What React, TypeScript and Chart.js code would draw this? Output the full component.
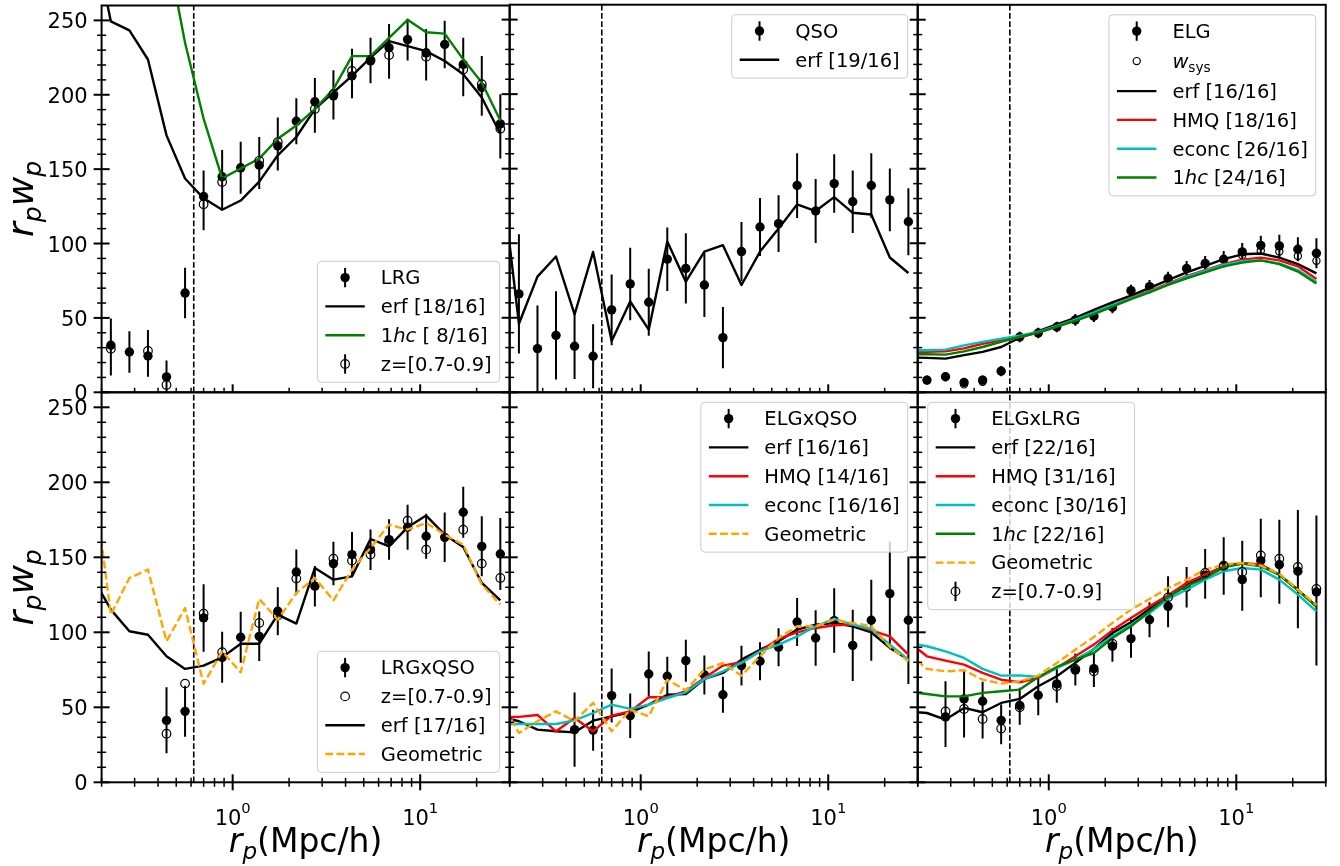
import React, { useEffect, useRef } from "react";
import { Chart, registerables } from "chart.js";

Chart.register(...registerables);

const FONT = '"DejaVu Sans", "Liberation Sans", Arial, sans-serif';

// ---------------- x positions (r_p in Mpc/h) ----------------
const rp = [0.2241, 0.2814, 0.3534, 0.4438, 0.5573, 0.6998, 0.8788, 1.1036, 1.3858, 1.7402, 2.1853,
  2.7443, 3.4462, 4.3276, 5.4344, 6.8236, 8.5677, 10.759, 13.511, 16.966, 21.305, 26.754];
const rpModel = [0.1785, 0.2241, 0.2814, 0.3534, 0.4438, 0.5573, 0.6998, 0.8788, 1.1036, 1.3858, 1.7402,
  2.1853, 2.7443, 3.4462, 4.3276, 5.4344, 6.8236, 8.5677, 10.759, 13.511, 16.966, 21.305, 26.754];
const rCut = 0.62;

// ---------------- axes ----------------
const xMin = 0.2, xMax = 30, yMin = 0, yMax = 260;
const yMajorTicks = [0, 50, 100, 150, 200, 250];
const yMinorTicks = [10, 20, 30, 40, 60, 70, 80, 90, 110, 120, 130, 140, 160, 170, 180, 190, 210, 220, 230, 240];
const xMajorTicks = [1, 10];
const xTickExponents = ["0", "1"];
const xMinorTicks = [0.2, 0.3, 0.4, 0.5, 0.6, 0.7, 0.8, 0.9, 2, 3, 4, 5, 6, 7, 8, 9, 20, 30];

// ---------------- LRG ----------------
const lrgY = [31.6, 27.1, 24.4, 10.4, 66.7, 131.6, 144.9, 150.9, 152.7, 165.6, 182.2, 195.3, 199.3, 212.7, 222.7, 231.6, 237.1, 228.2, 233.8, 220.4, 204.9, 180.4];
const lrgErr = [18, 14, 14, 11, 17, 17.5, 18, 17.5, 16, 16.5, 15.5, 16, 16, 15, 15, 16, 14, 16, 16, 18, 19, 20];
const lrgZY = [29.3, null, 27.8, 4.9, null, 126.4, 141.3, null, 155.6, 168.2, null, 190.4, 200.4, 216, 223.3, 226.7, null, 225.6, null, 217, 207.1, 177.1];
const lrgErf = [310, 249.3, 243.3, 223.7, 172.7, 143.7, 130.4, 122.7, 128.9, 141.6, 159.3, 171.6, 190.4, 201.6, 212.7, 224.9, 236, 232.7, 229.3, 222.7, 213.8, 198.2, 173.8];
const lrg1hc = [470, 450, 420, 380, 300, 235, 184, 143.8, 150.4, 157.1, 170.4, 179.3, 190.4, 203.8, 226, 226, 238.2, 250.4, 242, 241.1, 223.8, 208.2, 182.7];

// ---------------- QSO ----------------
const qsoY = [66, 29.3, 38.2, 30.9, 24.2, 55.3, 72.7, 60.4, 89.3, 83.1, 72, 36.7, 94.4, 110.9, 113.1, 138.7, 121.6, 140, 127.8, 138.7, 129.1, 114.4];
const qsoErr = [40, 29, 29.6, 22, 21.4, 23.7, 24.3, 22.5, 21.3, 23.6, 21.5, 20.6, 19.8, 19.5, 19, 21.7, 21.5, 19.6, 21, 21.6, 21, 22.5];
const qsoErf = [152, 46, 77.6, 91.1, 52.2, 94.2, 34.4, 60.9, 42, 101.1, 74.2, 94.4, 98.7, 72, 94.4, 109.8, 126, 121.6, 130.9, 120.4, 119.3, 90.4, 80];

// ---------------- ELG ----------------
const elgY = [8.2, 10.4, 6.6, 8.2, 14.2, 37.1, 39.8, 43.8, 48.6, 51.1, 57.1, 68.2, 70.9, 76.4, 83.1, 86.4, 89.3, 94.2, 98.6, 98.2, 96, 93.3];
const elgErr = [3, 3, 3, 3, 3.5, 3.5, 3.5, 3.5, 4, 4, 4, 4, 4.5, 4.5, 5, 5, 5.5, 6, 6.5, 7.5, 8, 10];
const elgSys = [null, null, 5.3, 7.0, null, null, null, null, null, null, null, null, null, null, null, null, null, 92, 95, 94.5, 91.5, 88.2];
const elgErf = [23.4, 23.1, 22.6, 24.9, 27.1, 30.4, 36.6, 41.1, 45.5, 50, 55.3, 60.4, 64.9, 70, 75.3, 80.4, 84.9, 89.3, 92.6, 93.1, 90.4, 86, 79.8];
const elgHmq = [27, 27.1, 27.5, 29.5, 32.6, 34.9, 37, 40, 44, 48.5, 53.5, 58.5, 63.5, 68, 73, 78, 82, 86, 89, 90.4, 88.5, 84.5, 76];
const elgEconc = [28.2, 28.2, 28.6, 31.5, 33.8, 36, 38, 40.5, 44.5, 48.8, 53.5, 58.5, 63, 67.5, 72.5, 77.5, 81.5, 85.5, 88, 88.5, 86.5, 82, 74];
const elg1hc = [25.5, 25.5, 25.3, 27.5, 30.4, 33.8, 37.3, 40, 44, 48, 52.5, 57.5, 62.5, 67, 72, 76.5, 80.5, 84.5, 87, 88.5, 86, 81, 73];

// ---------------- LRGxQSO ----------------
const lqY = [null, null, null, 41.3, 47.3, 109.6, 83.3, 96.7, 97.3, 114, 140.2, 130.7, 145.8, 151.8, 155.1, 161.8, 170, 164, 163.3, 180, 157.3, 152.2];
const lqErr = [0, 0, 0, 22, 17, 22.5, 17, 17, 16.5, 16, 15, 13.5, 14.5, 15, 13.5, 13.5, 15, 15, 16.5, 17, 20, 24];
const lqZY = [null, null, null, 32.4, 65.8, 112.4, 86.7, null, 106.2, 111.1, 135.8, null, 149.1, 147.8, 151.8, 160.7, 174.4, 155.1, null, 168.4, 145.8, 136.2];
const lqErf = [137, 115.1, 100.7, 98.4, 84, 75.6, 77.8, 83.3, 92.4, 92.4, 111.8, 105.8, 142.9, 135.1, 137.3, 162.2, 157.3, 170, 177.8, 165.1, 156.9, 132.9, 121.3];
const lqGeo = [207, 111.8, 136.2, 141.8, 94, 116.2, 65.6, 87.3, 73.3, 122.2, 108.4, 126.2, 136.2, 121.3, 141.8, 156.2, 171.8, 168.4, 172.9, 165.1, 158.4, 131.8, 118.4];

// ---------------- ELGxQSO ----------------
const eqY = [null, null, null, 35.1, 34.7, 57.8, 44.4, 72.2, 70.7, 81.1, 71.6, 58.4, 77.8, 80.7, 90, 106.9, 96.2, 107.8, 91.3, 108, 125.8, 108];
const eqErr = [0, 0, 0, 24.7, 13.7, 18, 14.8, 15, 13, 14, 13, 12, 13.3, 12.7, 12.7, 16, 18.5, 21.5, 23.8, 27, 34.8, 42.5];
const eqErf = [43.7, 40.7, 35.1, 34, 33.3, 41.1, 44, 46.7, 51.8, 58.4, 58.9, 68.9, 72.9, 81.8, 88.4, 94, 101.8, 105.1, 106.2, 104, 100, 89.6, 81.8];
const eqHmq = [43.6, 43.6, 44.9, 34, 42.9, 34, 44.4, 47.3, 56.7, 56.7, 60.7, 69.6, 77.8, 80, 87.3, 95.6, 100, 102.9, 104.7, 105.1, 101.3, 97.3, 85.1];
const eqEconc = [38.9, 38.9, 38.9, 38.9, 41.3, 46.2, 51.8, 48.9, 51.8, 56.2, 60, 68.9, 74, 79.6, 87.3, 91.8, 97.3, 104, 108.9, 105.1, 102.2, 91.8, 81.8];
const eqGeo = [55, 32.9, 40.7, 47.3, 40.7, 52.9, 34, 48.4, 44, 68.4, 61.3, 75.1, 79.6, 71.1, 84, 96.2, 104, 104, 108.4, 106.2, 104, 90.2, 80.7];

// ---------------- ELGxLRG ----------------
const elY = [null, 43.6, 55.6, 54, 41.3, 51.3, 58, 65.6, 74.7, 75.8, 90.7, 95.8, 108.4, 117.3, 130, 138.4, 144, 135.1, 147.8, 145.1, 140.7, 126.9];
const elErr = [0, 20, 19, 13, 10.5, 11.7, 13.3, 11, 10.2, 10.5, 10.4, 12.8, 11.7, 14, 13.5, 16, 19, 20.8, 24.4, 26, 38, 49];
const elZY = [null, 47.3, 48.9, 42.2, 35.8, 50, null, 64, 75.6, 74, 92.4, null, null, 123.3, null, 139.6, 144.4, 140.2, 151.3, 149.1, 143.6, 128.9];
const elErf = [47.2, 46.2, 41.8, 49.6, 46.7, 52.9, 55.6, 64, 70.7, 79.6, 88.9, 99.6, 106.7, 115.6, 124.4, 131.1, 137.8, 144, 145.8, 145.1, 138.4, 128.4, 117.3];
const elHmq = [93.8, 84, 81.1, 78.4, 72.9, 68.4, 66.7, 69.6, 76.2, 84, 91.8, 101.3, 109.6, 117.3, 124.7, 132.9, 138.4, 144, 146.2, 145.1, 138.4, 128, 117.3];
const elEconc = [92.9, 90.7, 87.3, 82.9, 75.6, 71.1, 71.3, 70.2, 76.2, 81.8, 88.9, 97.3, 105.1, 112.9, 122.2, 128.4, 135.1, 140.7, 142.9, 141.8, 135.1, 125.1, 114];
const el1hc = [60.3, 58.9, 57.3, 57.3, 59.6, 60.7, 61.8, 70.2, 76.9, 81.8, 86.2, 96.2, 104, 114, 123.6, 130.7, 136.2, 143.3, 145.8, 144, 138.4, 128, 117.3];
const elGeo = [85.8, 75.6, 74, 74.7, 68.4, 65.8, 67.3, 71.1, 79.6, 88.4, 96.9, 106.2, 115.1, 122.2, 129.6, 135.1, 141.8, 145.1, 146.2, 144.4, 139.1, 128.4, 118.4];

// ---------------- styles ----------------
const BLACK = "#000000", GREEN = "#008000", RED = "#ff0000", CYAN = "#00bfbf", ORANGE = "#ffa500";
const GEO_DASH = [7.8, 3.4];
const LINE_W = 2.4;

// ---------------- layout ----------------
const FIG_W = 1340, FIG_H = 866;
const AX_LEFT = 101.6, AX_W = 408.05, AX_TOP = 2.3, AX_H = 390;

type Seg = { t: string; it?: boolean; sub?: boolean; sup?: boolean };
type LegendItem = { kind: "errfilled" | "erropen" | "open" | "line"; label: Seg[]; color?: string; dash?: number[]; r?: number; tall?: boolean };
type Series =
  | { kind: "filled"; y: (number | null)[]; err: number[] }
  | { kind: "open"; y: (number | null)[]; err?: number[]; r: number }
  | { kind: "line"; y: number[]; color: string; dash?: number[] };
type PanelDef = { row: number; col: number; series: Series[]; corner: "ur" | "lr" | "ul"; legend: LegendItem[] };

const T = (t: string): Seg[] => [{ t }];

const panels: PanelDef[] = [
  {
    row: 0, col: 0, corner: "lr",
    series: [
      { kind: "filled", y: lrgY, err: lrgErr },
      { kind: "line", y: lrgErf, color: BLACK },
      { kind: "line", y: lrg1hc, color: GREEN },
      { kind: "open", y: lrgZY, err: lrgErr, r: 4.3 },
    ],
    legend: [
      { kind: "errfilled", label: T("LRG") },
      { kind: "line", label: T("erf [18/16]"), color: BLACK },
      { kind: "line", label: [{ t: "1" }, { t: "hc", it: true }, { t: " [ 8/16]" }], color: GREEN },
      { kind: "erropen", label: T("z=[0.7-0.9]"), r: 4.3 },
    ],
  },
  {
    row: 0, col: 1, corner: "ur",
    series: [
      { kind: "filled", y: qsoY, err: qsoErr },
      { kind: "line", y: qsoErf, color: BLACK },
    ],
    legend: [
      { kind: "errfilled", label: T("QSO") },
      { kind: "line", label: T("erf [19/16]"), color: BLACK },
    ],
  },
  {
    row: 0, col: 2, corner: "ur",
    series: [
      { kind: "filled", y: elgY, err: elgErr },
      { kind: "open", y: elgSys, r: 3.6 },
      { kind: "line", y: elgErf, color: BLACK },
      { kind: "line", y: elgHmq, color: RED },
      { kind: "line", y: elgEconc, color: CYAN },
      { kind: "line", y: elg1hc, color: GREEN },
    ],
    legend: [
      { kind: "errfilled", label: T("ELG") },
      { kind: "open", label: [{ t: "w", it: true }, { t: "sys", sub: true }], r: 3.6, tall: true },
      { kind: "line", label: T("erf [16/16]"), color: BLACK },
      { kind: "line", label: T("HMQ [18/16]"), color: RED },
      { kind: "line", label: T("econc [26/16]"), color: CYAN },
      { kind: "line", label: [{ t: "1" }, { t: "hc", it: true }, { t: " [24/16]" }], color: GREEN },
    ],
  },
  {
    row: 1, col: 0, corner: "lr",
    series: [
      { kind: "filled", y: lqY, err: lqErr },
      { kind: "open", y: lqZY, r: 4.3 },
      { kind: "line", y: lqErf, color: BLACK },
      { kind: "line", y: lqGeo, color: ORANGE, dash: GEO_DASH },
    ],
    legend: [
      { kind: "errfilled", label: T("LRGxQSO") },
      { kind: "open", label: T("z=[0.7-0.9]"), r: 4.3 },
      { kind: "line", label: T("erf [17/16]"), color: BLACK },
      { kind: "line", label: T("Geometric"), color: ORANGE, dash: GEO_DASH },
    ],
  },
  {
    row: 1, col: 1, corner: "ur",
    series: [
      { kind: "filled", y: eqY, err: eqErr },
      { kind: "line", y: eqErf, color: BLACK },
      { kind: "line", y: eqHmq, color: RED },
      { kind: "line", y: eqEconc, color: CYAN },
      { kind: "line", y: eqGeo, color: ORANGE, dash: GEO_DASH },
    ],
    legend: [
      { kind: "errfilled", label: T("ELGxQSO") },
      { kind: "line", label: T("erf [16/16]"), color: BLACK },
      { kind: "line", label: T("HMQ [14/16]"), color: RED },
      { kind: "line", label: T("econc [16/16]"), color: CYAN },
      { kind: "line", label: T("Geometric"), color: ORANGE, dash: GEO_DASH },
    ],
  },
  {
    row: 1, col: 2, corner: "ul",
    series: [
      { kind: "filled", y: elY, err: elErr },
      { kind: "line", y: elErf, color: BLACK },
      { kind: "line", y: elHmq, color: RED },
      { kind: "line", y: elEconc, color: CYAN },
      { kind: "line", y: el1hc, color: GREEN },
      { kind: "line", y: elGeo, color: ORANGE, dash: GEO_DASH },
      { kind: "open", y: elZY, err: elErr, r: 4.3 },
    ],
    legend: [
      { kind: "errfilled", label: T("ELGxLRG") },
      { kind: "line", label: T("erf [22/16]"), color: BLACK },
      { kind: "line", label: T("HMQ [31/16]"), color: RED },
      { kind: "line", label: T("econc [30/16]"), color: CYAN },
      { kind: "line", label: [{ t: "1" }, { t: "hc", it: true }, { t: " [22/16]" }], color: GREEN },
      { kind: "line", label: T("Geometric"), color: ORANGE, dash: GEO_DASH },
      { kind: "erropen", label: T("z=[0.7-0.9]"), r: 4.3 },
    ],
  },
];

// ---------------- text helpers ----------------
function segFont(s: Seg, size: number) {
  const sz = s.sub || s.sup ? size * 0.7 : size;
  return `${s.it ? "italic " : ""}${sz}px ${FONT}`;
}
function measureRich(ctx: CanvasRenderingContext2D, segs: Seg[], size: number) {
  let w = 0;
  for (const s of segs) {
    ctx.font = segFont(s, size);
    w += ctx.measureText(s.t).width;
  }
  return w;
}
function drawRich(ctx: CanvasRenderingContext2D, segs: Seg[], x: number, y: number, size: number, align: "left" | "center" | "right") {
  const w = measureRich(ctx, segs, size);
  let cx = align === "center" ? x - w / 2 : align === "right" ? x - w : x;
  ctx.textAlign = "left";
  ctx.textBaseline = "alphabetic";
  for (const s of segs) {
    ctx.font = segFont(s, size);
    const dy = s.sub ? 0.22 * size : s.sup ? -0.55 * size : 0;
    ctx.fillText(s.t, cx, y + dy);
    cx += ctx.measureText(s.t).width;
  }
}

function toPoints(xs: number[], ys: (number | null)[], errs?: number[]) {
  const data: { x: number; y: number }[] = [];
  const e: number[] = [];
  ys.forEach((v, i) => {
    if (v === null || v === undefined) return;
    data.push({ x: xs[i], y: v });
    e.push(errs ? errs[i] : 0);
  });
  return { data, e };
}

function buildDatasets(def: PanelDef) {
  const list: any[] = [];
  list.push({
    data: [{ x: rCut, y: yMin }, { x: rCut, y: yMax }],
    showLine: true, borderColor: BLACK, borderWidth: 1.6, borderDash: [5.8, 2.5],
    pointRadius: 0, pointHoverRadius: 0, clip: 0, fill: false,
  });
  for (const s of def.series) {
    if (s.kind === "filled") {
      const { data, e } = toPoints(rp, s.y, s.err);
      list.push({
        data, errs: e, showLine: false, pointRadius: 4.7, pointHoverRadius: 4.7,
        pointBackgroundColor: BLACK, pointBorderColor: BLACK, pointBorderWidth: 0, clip: 0,
      });
    } else if (s.kind === "open") {
      const { data, e } = toPoints(rp, s.y, s.err);
      list.push({
        data, errs: s.err ? e : undefined, showLine: false, pointRadius: s.r, pointHoverRadius: s.r,
        pointBackgroundColor: "rgba(0,0,0,0)", pointBorderColor: BLACK, pointBorderWidth: 1.2, clip: 0,
      });
    } else {
      const { data } = toPoints(rpModel, s.y);
      list.push({
        data, showLine: true, borderColor: s.color, borderWidth: LINE_W, borderDash: s.dash || [],
        borderJoinStyle: "round", pointRadius: 0, pointHoverRadius: 0, tension: 0, clip: 0, fill: false,
      });
    }
  }
  // later-plotted series on top (matplotlib order)
  list.forEach((d, i) => (d.order = list.length - i));
  return list;
}

function makeDecor(def: PanelDef) {
  return {
    id: "decor" + def.row + def.col,
    beforeDatasetsDraw(chart: any) {
      const { ctx, chartArea: a } = chart;
      const xs = chart.scales.x, ys = chart.scales.y;
      ctx.save();
      ctx.beginPath();
      ctx.rect(a.left, a.top, a.right - a.left, a.bottom - a.top);
      ctx.clip();
      ctx.beginPath();
      for (const ds of chart.data.datasets) {
        if (!ds.errs) continue;
        ds.data.forEach((p: any, i: number) => {
          const e = ds.errs[i];
          if (!e) return;
          const px = xs.getPixelForValue(p.x);
          ctx.moveTo(px, ys.getPixelForValue(p.y - e));
          ctx.lineTo(px, ys.getPixelForValue(p.y + e));
        });
      }
      ctx.strokeStyle = BLACK;
      ctx.lineWidth = 2;
      ctx.stroke();
      ctx.restore();
    },
    afterDraw(chart: any) {
      const { ctx, chartArea: a } = chart;
      const xs = chart.scales.x, ys = chart.scales.y;
      ctx.save();
      ctx.strokeStyle = BLACK;
      ctx.fillStyle = BLACK;
      // frame
      ctx.lineWidth = 2;
      ctx.strokeRect(a.left, a.top, a.right - a.left, a.bottom - a.top);
      const tick = (x1: number, y1: number, x2: number, y2: number, w: number) => {
        ctx.beginPath(); ctx.moveTo(x1, y1); ctx.lineTo(x2, y2); ctx.lineWidth = w; ctx.stroke();
      };
      for (const v of yMajorTicks) {
        const py = ys.getPixelForValue(v);
        tick(a.left - 8, py, a.left + 8, py, 2);
      }
      for (const v of yMinorTicks) {
        const py = ys.getPixelForValue(v);
        tick(a.left - 4.5, py, a.left + 4.5, py, 1.5);
      }
      const out = def.row === 1;
      for (const v of xMajorTicks) {
        const px = xs.getPixelForValue(v);
        tick(px, a.bottom - 8, px, a.bottom + (out ? 8 : 0), 2);
      }
      for (const v of xMinorTicks) {
        const px = xs.getPixelForValue(v);
        tick(px, a.bottom - 4.5, px, a.bottom + (out ? 4.5 : 0), 1.5);
      }
      if (def.col === 0) {
        ctx.font = `21px ${FONT}`;
        ctx.textAlign = "right";
        ctx.textBaseline = "alphabetic";
        for (const v of yMajorTicks) {
          const py = ys.getPixelForValue(v);
          ctx.fillText(String(v), a.left - 14, py + 8);
        }
        ctx.save();
        ctx.translate(33, (a.top + a.bottom) / 2);
        ctx.rotate(-Math.PI / 2);
        drawRich(ctx, [{ t: "r", it: true }, { t: "p", it: true, sub: true }, { t: "w", it: true }, { t: "p", it: true, sub: true }], 0, 0, 36, "center");
        ctx.restore();
      }
      if (def.row === 1) {
        xMajorTicks.forEach((v, i) => {
          const px = xs.getPixelForValue(v);
          drawRich(ctx, [{ t: "10" }, { t: xTickExponents[i], sup: true }], px, a.bottom + 42.2, 21, "center");
        });
        drawRich(ctx, [{ t: "r", it: true }, { t: "p", it: true, sub: true }, { t: "(Mpc/h)" }], (a.left + a.right) / 2, a.bottom + 69.5, 33, "center");
      }
      drawLegend(ctx, a, def);
      ctx.restore();
    },
  };
}

function drawLegend(ctx: CanvasRenderingContext2D, a: any, def: PanelDef) {
  const fs = 19.5;
  const items = def.legend;
  const textW = Math.max(...items.map((it) => measureRich(ctx, it.label, fs)));
  const W = 63.5 + textW + 8;
  const centers: number[] = [];
  let cy = 16.3;
  items.forEach((it, i) => {
    if (i > 0) cy += 28.8;
    if (it.tall) cy += 1.2;
    centers.push(cy);
    if (it.tall) cy += 1.2;
  });
  const H = cy + 18.3;
  const pad = 10;
  let left: number, top: number;
  if (def.corner === "ur") { left = a.right - pad - W; top = a.top + pad; }
  else if (def.corner === "lr") { left = a.right - pad - W; top = a.bottom - pad - H; }
  else { left = a.left + pad; top = a.top + pad; }
  ctx.save();
  ctx.beginPath();
  const r = 4;
  ctx.moveTo(left + r, top);
  ctx.arcTo(left + W, top, left + W, top + H, r);
  ctx.arcTo(left + W, top + H, left, top + H, r);
  ctx.arcTo(left, top + H, left, top, r);
  ctx.arcTo(left, top, left + W, top, r);
  ctx.closePath();
  ctx.fillStyle = "rgba(255,255,255,0.8)";
  ctx.fill();
  ctx.strokeStyle = "#cccccc";
  ctx.lineWidth = 1;
  ctx.stroke();
  items.forEach((it, i) => {
    const y = top + centers[i];
    const mx = left + 27.8;
    ctx.setLineDash([]);
    if (it.kind === "line") {
      ctx.beginPath();
      ctx.moveTo(left + 8, y);
      ctx.lineTo(left + 47.5, y);
      ctx.strokeStyle = it.color || BLACK;
      ctx.lineWidth = LINE_W;
      ctx.setLineDash(it.dash || []);
      ctx.stroke();
      ctx.setLineDash([]);
    } else {
      if (it.kind === "errfilled" || it.kind === "erropen") {
        ctx.beginPath();
        ctx.moveTo(mx, y - 9.7);
        ctx.lineTo(mx, y + 9.7);
        ctx.strokeStyle = BLACK;
        ctx.lineWidth = 2;
        ctx.stroke();
      }
      ctx.beginPath();
      if (it.kind === "errfilled") {
        ctx.arc(mx, y, 4.7, 0, Math.PI * 2);
        ctx.fillStyle = BLACK;
        ctx.fill();
      } else {
        ctx.arc(mx, y, it.r || 4.3, 0, Math.PI * 2);
        ctx.strokeStyle = BLACK;
        ctx.lineWidth = 1.2;
        ctx.stroke();
      }
    }
    ctx.fillStyle = BLACK;
    drawRich(ctx, it.label, left + 63.5, y + 6.8, fs, "left");
  });
  ctx.restore();
}

function Panel({ def }: { def: PanelDef }) {
  const ref = useRef<HTMLCanvasElement>(null);
  useEffect(() => {
    const x0 = AX_LEFT + def.col * AX_W;
    const y0 = AX_TOP + def.row * AX_H;
    const chart = new Chart(ref.current as HTMLCanvasElement, {
      type: "scatter",
      data: { datasets: buildDatasets(def) },
      options: {
        animation: false,
        responsive: false,
        devicePixelRatio: 1,
        events: [],
        layout: { padding: { left: x0, top: y0, right: FIG_W - (x0 + AX_W), bottom: FIG_H - (y0 + AX_H) } },
        plugins: { legend: { display: false }, tooltip: { enabled: false }, title: { display: false } },
        scales: {
          x: { type: "logarithmic", min: xMin, max: xMax, display: false },
          y: { type: "linear", min: yMin, max: yMax, display: false },
        },
      } as any,
      plugins: [makeDecor(def)],
    });
    return () => chart.destroy();
  }, [def]);
  return <canvas ref={ref} width={FIG_W} height={FIG_H} style={{ position: "absolute", left: 0, top: 0 }} />;
}

export default function App() {
  return (
    <div style={{ position: "absolute", left: 0, top: 0, width: FIG_W, height: FIG_H, background: "#ffffff", overflow: "hidden" }}>
      {panels.map((p, i) => (
        <Panel key={i} def={p} />
      ))}
    </div>
  );
}
